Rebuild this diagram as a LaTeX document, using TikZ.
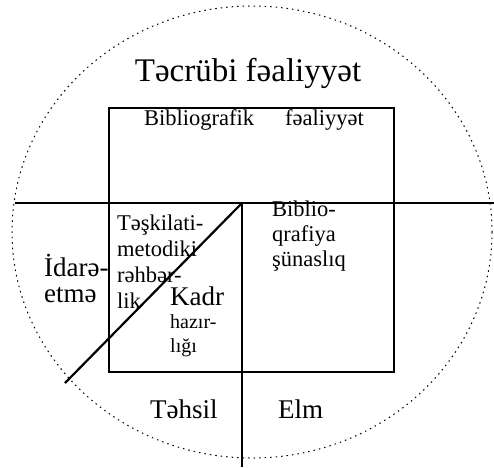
\documentclass[tikz,border=0pt]{standalone}
\usepackage{fontspec}
\setmainfont{Liberation Serif}
\usetikzlibrary{positioning}
\begin{document}
\begin{tikzpicture}[x=1pt,y=-1pt, ring/.style={line width=1pt,dash pattern=on 1.5pt off 4pt}, frame/.style={draw,line width=1.7pt,inner sep=0pt,minimum width=285pt,minimum height=264pt}, axis/.style={line width=1.3pt}, title/.style={inner sep=0pt,font=\fontsize{33}{36}\selectfont}, big/.style={inner sep=0pt,align=left,font=\fontsize{27}{26}\selectfont}, small/.style={inner sep=0pt,align=left,font=\fontsize{22.5}{25}\selectfont}]
\useasboundingbox (0,0) rectangle (494,467);
\draw[ring] (252,232) ellipse [x radius=240, y radius=226];
\node[frame,anchor=north west] (R) at (108,107) {};
\coordinate (W) at (15,203);
\coordinate (E) at (494,203);
\coordinate (N) at (242,203);
\coordinate (S) at (242,467);
\coordinate (D) at (65,383);
\draw[axis] (W) -- (E);
\draw[axis] (N) -- (S);
\draw[line width=2.2pt] (N) -- (D);
% texts
\node[title,anchor=base] (T) at (248,81) {Təcrübi fəaliyyət};
\node[small,anchor=base west] (B1) at (144,125) {Bibliografik};
\node[small,anchor=base west] (B2) at (285,125) {fəaliyyət};
\node[small,anchor=north west,font=\fontsize{22.5}{26}\selectfont] (TM) at (117,215) {Təşkilati-\\metodiki\\rəhbər-\\lik};
\node[big,anchor=north west] (I) at (44,254) {İdarə-\\etmə};
\node[big,anchor=base west] (K) at (170,305) {Kadr};
\node[small,anchor=north west,font=\fontsize{20}{24}\selectfont] (H) at (170,314) {hazır-\\lığı};
\node[small,anchor=north west] (BS) at (272,201) {Biblio-\\qrafiya\\şünaslıq};
\node[big,anchor=base west] (Te) at (150,418) {Təhsil};
\node[big,anchor=base west] (El) at (278,418) {Elm};
\end{tikzpicture}
\end{document}
